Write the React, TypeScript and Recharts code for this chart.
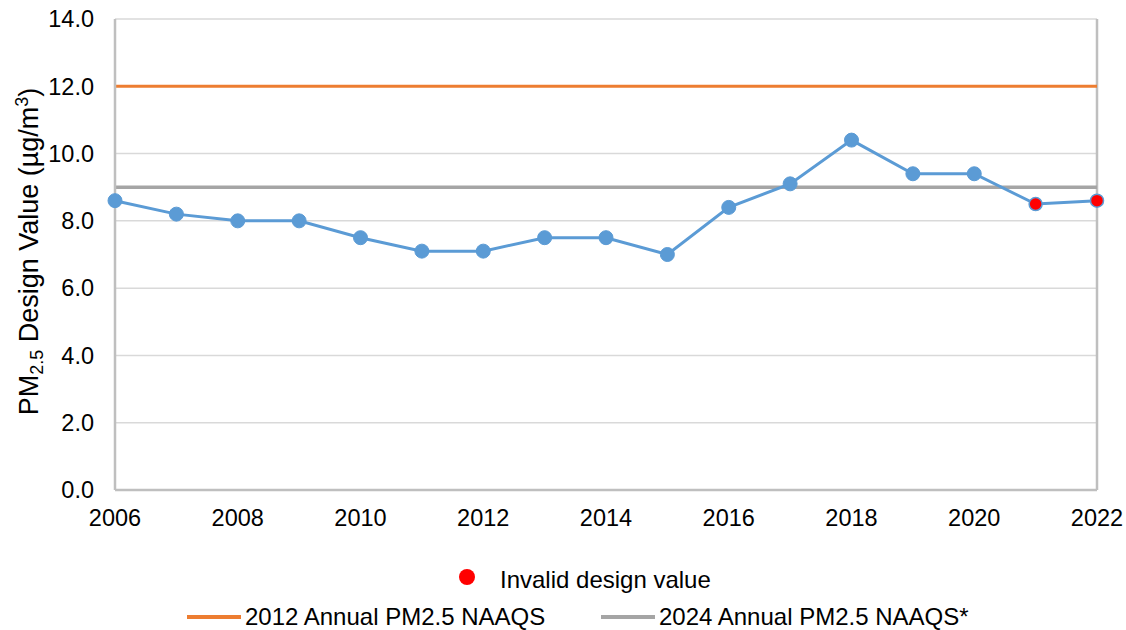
import React from 'react'
import {
  LineChart, Line, XAxis, YAxis, CartesianGrid, ReferenceLine,
} from 'recharts'

// design values by year (µg/m3)
const years = [2006, 2007, 2008, 2009, 2010, 2011, 2012, 2013, 2014, 2015, 2016, 2017, 2018, 2019, 2020, 2021, 2022]
const designValues = [8.6, 8.2, 8.0, 8.0, 7.5, 7.1, 7.1, 7.5, 7.5, 7.0, 8.4, 9.1, 10.4, 9.4, 9.4, 8.5, 8.6]
const invalidYears = [2021, 2022]

const xTicks = [2006, 2008, 2010, 2012, 2014, 2016, 2018, 2020, 2022]
const yTicks = [0, 2, 4, 6, 8, 10, 12, 14]

const naaqs2012 = 12
const naaqs2024 = 9

const BLUE = '#5b9bd5'
const ORANGE = '#ed7d31'
const GRAY = '#a5a5a5'
const FONT = '"Liberation Sans", Arial, sans-serif'

const data = years.map((year, i) => ({
  year,
  value: designValues[i],
  invalid: invalidYears.includes(year),
}))

function DesignDot(props: { cx?: number; cy?: number; payload?: { invalid: boolean }; index?: number }) {
  const { cx, cy, payload, index } = props
  if (cx == null || cy == null) return null
  if (payload?.invalid) {
    return <circle key={index} cx={cx} cy={cy} r={6.5} fill="#ff0000" stroke={BLUE} strokeWidth={1.5} />
  }
  return <circle key={index} cx={cx} cy={cy} r={7} fill={BLUE} stroke={BLUE} strokeWidth={1} />
}

function YLabel(props: { viewBox?: { x: number; y: number; width: number; height: number } }) {
  const vb = props.viewBox
  if (!vb) return null
  const bx = 38
  const cy = vb.y + vb.height / 2 - 3
  return (
    <text
      x={bx} y={cy} transform={`rotate(-90, ${bx}, ${cy})`}
      textAnchor="middle"
      fontFamily={FONT} fontSize={27} fill="#000"
    >
      PM
      <tspan fontSize={18} dy={5}>2.5</tspan>
      <tspan dy={-5}> Design Value (µg/m</tspan>
      <tspan fontSize={18} dy={-10}>3</tspan>
      <tspan dy={10}>)</tspan>
    </text>
  )
}

const legendLines = [
  { name: '2012 Annual PM2.5 NAAQS', color: ORANGE, left: 187 },
  { name: '2024 Annual PM2.5 NAAQS*', color: GRAY, left: 601 },
]

export default function App() {
  return (
    <div style={{ position: 'absolute', left: 0, top: 0, width: 1126, height: 630, background: '#fff', fontFamily: FONT }}>
      <LineChart width={1126} height={630} data={data} margin={{ top: 19, right: 29, left: 0, bottom: 100 }}>
        <CartesianGrid vertical={false} stroke="#d9d9d9" strokeWidth={1.5} />
        <XAxis
          dataKey="year" type="number" domain={[2006, 2022]} ticks={xTicks}
          height={40} tickSize={0} tickMargin={19}
          axisLine={{ stroke: '#bfbfbf', strokeWidth: 2.5 }} tickLine={false}
          tick={{ fill: '#000', fontSize: 23.5, fontFamily: FONT }}
        />
        <YAxis
          domain={[0, 14]} ticks={yTicks} width={115} tickSize={0} tickMargin={21}
          axisLine={{ stroke: '#bfbfbf', strokeWidth: 2.5 }} tickLine={false}
          tick={{ fill: '#000', fontSize: 23.5, fontFamily: FONT }}
          tickFormatter={(v: number) => v.toFixed(1)}
          label={<YLabel />}
        />
        <ReferenceLine x={2022} stroke="#bfbfbf" strokeWidth={2.5} />
        <ReferenceLine y={naaqs2012} stroke={ORANGE} strokeWidth={3} />
        <ReferenceLine y={naaqs2024} stroke={GRAY} strokeWidth={3.5} />
        <Line
          dataKey="value" stroke={BLUE} strokeWidth={3}
          dot={(p: any) => <DesignDot {...p} />}
          isAnimationActive={false}
        />
      </LineChart>

      <div style={{ position: 'absolute', left: 459, top: 569, width: 16, height: 16, borderRadius: 8, background: '#ff0000' }} />
      <div style={{ position: 'absolute', left: 500, top: 566, fontSize: 24, lineHeight: '28px', color: '#000', whiteSpace: 'nowrap' }}>
        Invalid design value
      </div>
      {legendLines.map((l) => (
        <div key={l.name} style={{ position: 'absolute', left: l.left, top: 603, height: 28, display: 'flex', alignItems: 'center', whiteSpace: 'nowrap' }}>
          <span style={{ display: 'inline-block', width: 54, height: 3.5, background: l.color, marginRight: 4 }} />
          <span style={{ fontSize: 24, lineHeight: '28px', color: '#000' }}>{l.name}</span>
        </div>
      ))}
    </div>
  )
}
